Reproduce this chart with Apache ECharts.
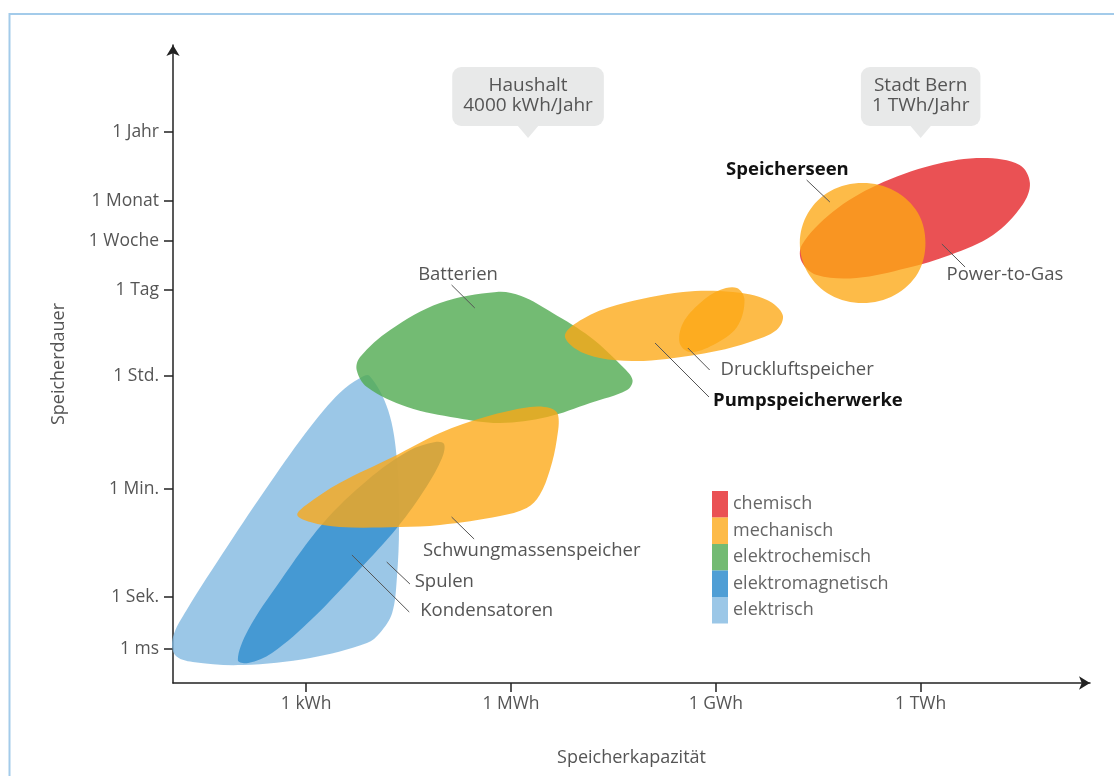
<!DOCTYPE html>
<html>
<head>
<meta charset="utf-8">
<script src="https://cdn.jsdelivr.net/npm/echarts@6/dist/echarts.min.js"></script>
<style>
  html, body { margin: 0; background: #fff; }
  #chart { width: 1114px; height: 776px; }
</style>
</head>
<body>
<div id="chart"></div>
<script>
// x: log10(Wh), y: schematic duration scale (as drawn in the original)
const xTickValues = [3, 6, 9, 12];
const xTickLabels = ['1 kWh', '1 MWh', '1 GWh', '1 TWh'];
const yTickValues = [3.4, 8.6, 19.4, 30.7, 39.3, 44.2, 48.2, 55.1];
const yTickLabels = ['1 ms', '1 Sek.', '1 Min.', '1 Std.', '1 Tag', '1 Woche', '1 Monat', '1 Jahr'];

// blob outlines [capacity, duration]
const spulenOutline = [
  [3.93, 30.7], [4.20, 27.3], [4.33, 22.3], [4.36, 15.6], [4.33, 10.6], [4.26, 7.0],
  [4.08, 5.0], [3.89, 4.0], [3.06, 2.5], [2.07, 1.8], [1.34, 2.1], [1.08, 2.8],
  [1.05, 4.6], [1.25, 7.3], [1.84, 13.6], [2.47, 20.0], [3.06, 25.6], [3.49, 29.0], [3.79, 30.5]
];
const kondensatorenOutline = [
  [2.00, 2.3], [2.15, 5.3], [2.62, 10.2], [3.25, 16.0], [3.90, 20.3], [4.50, 23.2],
  [4.89, 24.1], [5.02, 23.9], [4.99, 22.5], [4.76, 19.6], [4.34, 15.6], [3.76, 11.2],
  [3.10, 6.5], [2.50, 3.0], [2.15, 2.0]
];
const batterienOutline = [
  [5.79, 39.1], [4.96, 38.0], [4.23, 35.3], [3.79, 32.6], [3.74, 31.3], [3.89, 29.6],
  [4.48, 27.6], [5.21, 26.5], [5.84, 26.0], [6.53, 26.6], [7.16, 28.0], [7.70, 29.3],
  [7.78, 30.3], [7.64, 31.6], [7.16, 34.6], [6.61, 37.0], [6.15, 38.7]
];
const powerToGasOutline = [
  [10.26, 43.8], [10.71, 47.1], [11.36, 49.8], [12.18, 51.8], [12.91, 52.5], [13.45, 51.8],
  [13.60, 50.0], [13.49, 47.8], [13.06, 44.8], [12.43, 42.8], [11.80, 41.5], [11.06, 40.5],
  [10.48, 40.8], [10.26, 42.1]
];
const speicherseenOutline = [
  [12.07, 44.0], [11.96, 47.0], [11.62, 49.2], [11.15, 50.0], [10.68, 49.2], [10.35, 47.0],
  [10.23, 44.0], [10.35, 41.0], [10.68, 38.8], [11.15, 38.0], [11.62, 38.8], [11.96, 41.0]
];
const pumpspeicherOutline = [
  [6.79, 34.8], [7.05, 36.4], [7.55, 37.8], [8.52, 39.1], [9.25, 39.1], [9.75, 38.3],
  [9.98, 36.8], [9.89, 35.3], [9.50, 34.1], [9.01, 33.2], [8.28, 32.4], [7.78, 32.2],
  [7.30, 32.5], [6.95, 33.4]
];
const druckluftOutline = [
  [9.31, 39.5], [9.42, 38.3], [9.31, 35.6], [8.96, 33.8], [8.62, 33.1], [8.47, 34.0],
  [8.52, 36.0], [8.77, 38.0], [9.06, 39.3]
];
const schwungmassenOutline = [
  [2.87, 16.8], [3.06, 16.1], [3.49, 15.6], [4.37, 15.6], [4.96, 15.8], [5.84, 16.7],
  [6.23, 17.5], [6.42, 18.8], [6.57, 21.3], [6.67, 24.3], [6.69, 26.8], [6.57, 27.5],
  [6.28, 27.6], [5.62, 26.6], [4.96, 25.0], [4.27, 22.6], [3.49, 20.0], [3.00, 17.8]
];

// annotation labels
const labelNames = ['Speicherseen', 'Power-to-Gas', 'Batterien', 'Druckluftspeicher',
  'Pumpspeicherwerke', 'Schwungmassenspeicher', 'Spulen', 'Kondensatoren'];
const labelPos = [[9.15, 51.3], [12.38, 40.8], [4.64, 40.8], [9.07, 31.3],
  [8.96, 28.2], [4.71, 13.2], [4.59, 10.1], [4.67, 7.2]];
const labelBold = [true, false, false, false, true, false, false, false];
const leaderLines = [
  [10.33, 50.3, 10.67, 48.1],
  [12.31, 43.9, 12.65, 41.6],
  [5.13, 39.8, 5.47, 37.5],
  [8.59, 33.5, 8.91, 31.3],
  [8.11, 34.0, 8.90, 28.6],
  [5.13, 16.6, 5.46, 14.4],
  [4.18, 12.1, 4.52, 9.9],
  [3.67, 12.8, 4.51, 7.1]
];
const calloutTexts = ['Haushalt\n4000 kWh/Jahr', 'Stadt Bern\n1 TWh/Jahr'];
const calloutPos = [[6.25, 54.5], [12.0, 54.5]];

const FONT = "'Open Sans', sans-serif";
const TEXT = '#555';
const AXIS = '#222';

const chart = echarts.init(document.getElementById('chart'), null, { renderer: 'canvas' });

function blobSeries(name, color, outlines) {
  return {
    type: 'custom',
    name: name,
    clip: false,
    silent: true,
    itemStyle: { color: color },
    encode: { x: 0, y: 1 },
    data: outlines.map((o) => [o[0][0], o[0][1]]),
    renderItem: (params, api) => {
      const pts = outlines[params.dataIndex].map((p) => api.coord(p));
      return {
        type: 'polygon',
        shape: { points: pts, smooth: 0.35 },
        style: { fill: api.visual('color') }
      };
    }
  };
}

const legendNames = ['chemisch', 'mechanisch', 'elektrochemisch', 'elektromagnetisch', 'elektrisch'];

const option = {
  animation: false,
  backgroundColor: '#fff',
  grid: { left: 173, right: 24, top: 45, bottom: 93, outerBoundsMode: 'none' },
  graphic: [{
    type: 'polyline',
    shape: { points: [[9.5, 776], [9.5, 14], [1114, 14]] },
    style: { stroke: '#a3cbea', lineWidth: 2, fill: null },
    silent: true
  }],
  legend: {
    orient: 'vertical',
    left: 712,
    top: 491,
    padding: 0,
    itemGap: 0,
    itemWidth: 16,
    itemHeight: 26.5,
    icon: 'rect',
    selectedMode: false,
    textStyle: { color: '#666', fontSize: 18, fontFamily: FONT },
    data: legendNames
  },
  xAxis: {
    type: 'value',
    min: 1.05,
    max: 14.48,
    name: 'Speicherkapazität',
    nameLocation: 'middle',
    nameGap: 66,
    nameTextStyle: { color: TEXT, fontSize: 18, fontFamily: FONT },
    axisLine: { show: true, symbol: ['none', 'arrow'], symbolSize: [10, 11], lineStyle: { color: AXIS, width: 1.5 } },
    axisTick: { show: true, customValues: xTickValues, length: 9, lineStyle: { color: AXIS, width: 1.5 } },
    axisLabel: {
      customValues: xTickValues,
      margin: 12,
      color: TEXT,
      fontSize: 17.5,
      fontFamily: FONT,
      formatter: (v) => xTickLabels[xTickValues.indexOf(v)] || ''
    },
    splitLine: { show: false }
  },
  yAxis: {
    type: 'value',
    min: 0,
    max: 63.8,
    name: 'Speicherdauer',
    nameLocation: 'middle',
    nameRotate: 90,
    nameGap: 105,
    nameTextStyle: { color: TEXT, fontSize: 18, fontFamily: FONT },
    axisLine: { show: true, symbol: ['none', 'arrow'], symbolSize: [10, 11], lineStyle: { color: AXIS, width: 1.5 } },
    axisTick: { show: true, customValues: yTickValues, length: 9, lineStyle: { color: AXIS, width: 1.5 } },
    axisLabel: {
      customValues: yTickValues,
      margin: 14,
      color: TEXT,
      fontSize: 17.5,
      fontFamily: FONT,
      formatter: (v) => yTickLabels[yTickValues.indexOf(v)] || ''
    },
    splitLine: { show: false }
  },
  series: [
    blobSeries('elektrisch', 'rgba(130,185,225,0.8)', [spulenOutline]),
    blobSeries('elektromagnetisch', 'rgba(60,148,208,0.9)', [kondensatorenOutline]),
    blobSeries('elektrochemisch', 'rgba(80,170,80,0.8)', [batterienOutline]),
    blobSeries('chemisch', 'rgba(232,62,65,0.9)', [powerToGasOutline]),
    blobSeries('mechanisch', 'rgba(252,168,20,0.78)',
      [schwungmassenOutline, pumpspeicherOutline, druckluftOutline, speicherseenOutline]),
    {
      type: 'custom',
      name: 'leaders',
      silent: true,
      clip: false,
      encode: { x: [0, 2], y: [1, 3] },
      data: leaderLines,
      renderItem: (params, api) => {
        const a = api.coord([api.value(0), api.value(1)]);
        const b = api.coord([api.value(2), api.value(3)]);
        return {
          type: 'line',
          shape: { x1: a[0], y1: a[1], x2: b[0], y2: b[1] },
          style: { stroke: '#555', lineWidth: 1 }
        };
      }
    },
    {
      type: 'custom',
      name: 'labels',
      silent: true,
      clip: false,
      encode: { x: 0, y: 1 },
      data: labelPos,
      renderItem: (params, api) => {
        const p = api.coord([api.value(0), api.value(1)]);
        const bold = labelBold[params.dataIndex];
        return {
          type: 'text',
          x: p[0],
          y: p[1],
          style: {
            text: labelNames[params.dataIndex],
            fill: bold ? '#111' : TEXT,
            fontSize: 18.5,
            fontWeight: bold ? 'bold' : 'normal',
            fontFamily: FONT,
            align: 'left',
            verticalAlign: 'middle'
          }
        };
      }
    },
    {
      type: 'custom',
      name: 'callouts',
      silent: true,
      clip: false,
      encode: { x: 0, y: 1 },
      data: calloutPos,
      renderItem: (params, api) => {
        const p = api.coord([api.value(0), api.value(1)]);
        return {
          type: 'group',
          children: [
            {
              type: 'polygon',
              shape: { points: [[p[0] - 11, p[1] - 13], [p[0] + 11, p[1] - 13], [p[0], p[1]]] },
              style: { fill: '#e8e9e9' }
            },
            {
              type: 'text',
              x: p[0],
              y: p[1] - 12,
              style: {
                text: calloutTexts[params.dataIndex],
                fill: TEXT,
                fontSize: 19,
                lineHeight: 20,
                fontFamily: FONT,
                align: 'center',
                verticalAlign: 'bottom',
                backgroundColor: '#e8e9e9',
                borderRadius: 9,
                padding: [9, 11, 10, 11]
              }
            }
          ]
        };
      }
    }
  ]
};

chart.setOption(option);
</script>
</body>
</html>
